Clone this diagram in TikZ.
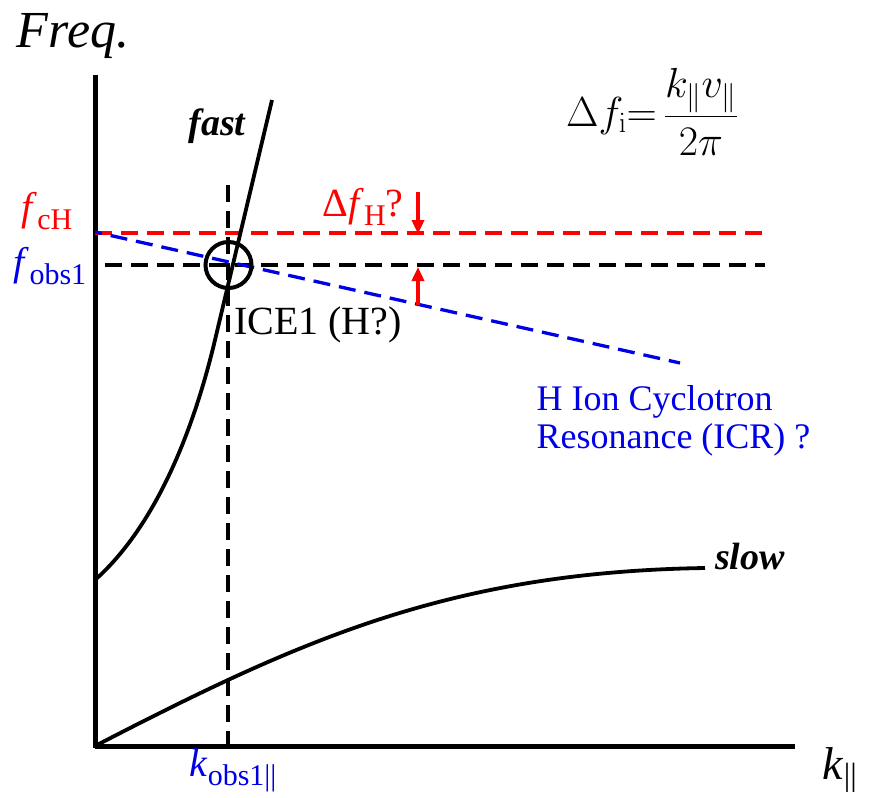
\documentclass[tikz,border=0pt]{standalone}
\usepackage{fix-cm}
\usepackage[no-math]{fontspec}
\setmainfont{Liberation Serif}
\usetikzlibrary{arrows.meta}
\definecolor{hred}{RGB}{255,0,0}
\definecolor{hblue}{RGB}{0,0,230}
\tikzset{
  axisline/.style={line width=5pt},
  branch/.style={line width=3.8pt},
  guide/.style={line width=3.3pt, dash pattern=on 17pt off 9pt},
  shiftarrow/.style={hred, line width=3.5pt, -{Triangle[length=14pt,width=12pt]}},
  bigtxt/.style={font=\fontsize{40}{44}\selectfont},
  midtxt/.style={font=\fontsize{36}{38}\selectfont},
}
\newcommand{\lowsub}[1]{\raisebox{-0.22em}{\fontsize{30}{32}\selectfont #1}}
\begin{document}
\begin{tikzpicture}[x=1pt, y=-1pt]
  \useasboundingbox (0,0) rectangle (871,798);
  % axes
  \coordinate (origin) at (95,746);
  \coordinate (ytop) at (95,75);
  \coordinate (xend) at (795,746);
  \draw[axisline] (ytop) -- (95,748);
  \draw[axisline] (origin) -- (xend);
  \node[font=\fontsize{52}{56}\selectfont\itshape] (freq) at (73,36) {Freq.};
  \node[font=\fontsize{46}{48}\selectfont] (kpar) at (840,770) {\textit{k}\textsubscript{||}};
  % observed frequency and wave number
  \coordinate (kobs) at (228,745);
  \coordinate (kobstop) at (228,185);
  \draw[guide] (kobstop) -- (kobs);
  \coordinate (fobsl) at (105,265);
  \coordinate (fobsr) at (765,265);
  \draw[guide] (fobsl) -- (fobsr);
  \node[bigtxt, text=hblue] (kobslbl) at (233,770) {\textit{k}\lowsub{obs1||}};
  \node[bigtxt, text=hblue] (fobslbl) at (50,266) {\textit{f}\lowsub{obs1}};
  % cyclotron frequency
  \coordinate (fcl) at (95,233);
  \coordinate (fcr) at (765,233);
  \draw[guide, hred] (fcl) -- (fcr);
  \node[bigtxt, text=hred] (fclbl) at (47,211) {\textit{f}\lowsub{cH}};
  % resonance line
  \coordinate (icrl) at (95,232);
  \coordinate (icrr) at (680,363);
  \draw[guide, hblue, dash phase=10pt] (icrl) -- (icrr);
  \node[midtxt, text=hblue, anchor=west, align=left] (icrlbl) at (533,421)
    {H Ion Cyclotron\\Resonance (ICR) ?};
  % fast and slow branches
  \draw[branch] (95,580) .. controls (160,522) and (196,420) .. (215,340) -- (272,100);
  \draw[branch] (origin) .. controls (300,640) and (450,572) .. (705,568);
  \node[font=\fontsize{38}{40}\selectfont\bfseries\itshape] (fastlbl) at (217,126) {fast};
  \node[font=\fontsize{38}{40}\selectfont\bfseries\itshape] (slowlbl) at (750,556) {slow};
  % ICE1 marker
  \node[draw, circle, line width=4pt, minimum size=46pt, inner sep=0pt] (ice) at (228.5,265) {};
  \node[bigtxt] (icelbl) at (318,325) {ICE1 (H?)};
  % frequency shift
  \coordinate (dtop) at (418,192);
  \coordinate (dfc) at (418,234);
  \coordinate (dbot) at (418,305);
  \coordinate (dobs) at (418,267);
  \draw[shiftarrow] (dtop) -- (dfc);
  \draw[shiftarrow] (dbot) -- (dobs);
  \node[bigtxt, text=hred] (dflbl) at (363,207) {Δ\textit{f}\lowsub{H}?};
  \node[font=\fontsize{42}{44}\selectfont] (formula) at (652,112)
    {$\Delta f_{\mathrm{i}}{=}\,\displaystyle\frac{k_{\parallel}v_{\parallel}}{2\pi}$};
\end{tikzpicture}
\end{document}
